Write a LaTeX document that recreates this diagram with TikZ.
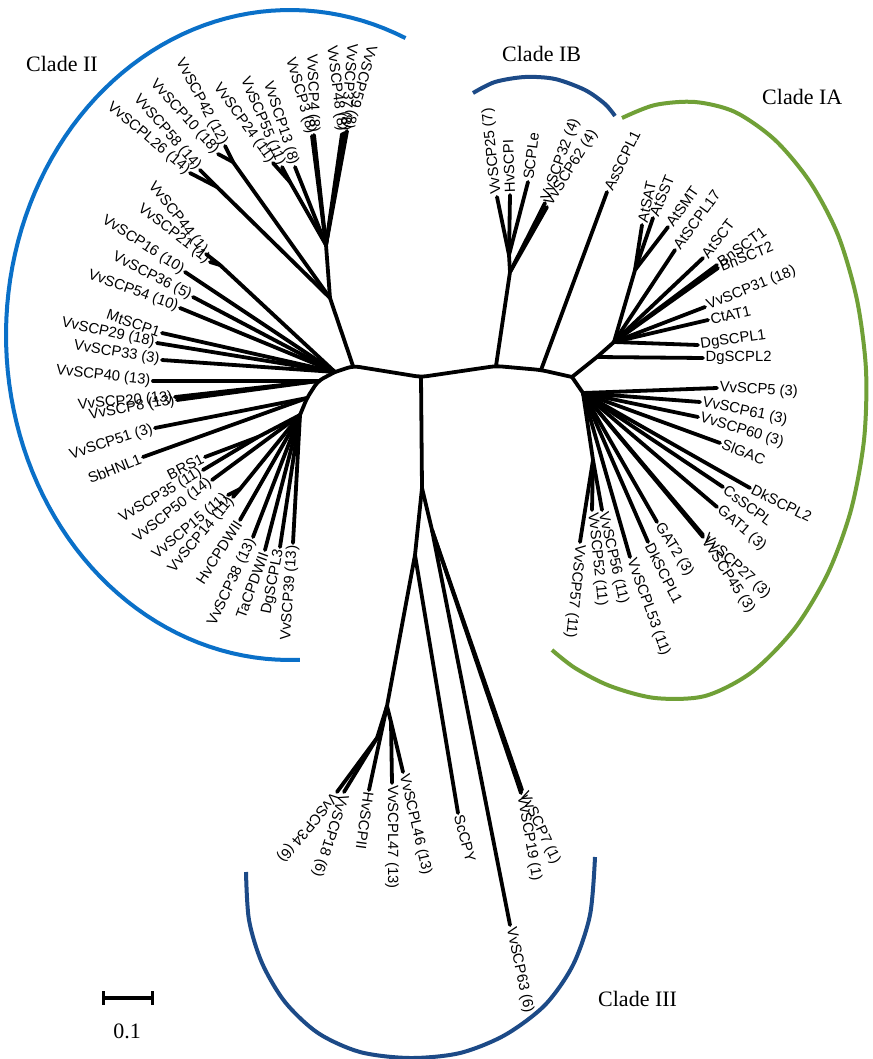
\documentclass[tikz,border=0pt]{standalone}
\usepackage{fontspec}
\setmainfont{Liberation Serif}
\newfontfamily\arialfam{Liberation Sans}
\definecolor{cladeblue}{RGB}{10,112,200}
\definecolor{cladenavy}{RGB}{28,74,135}
\definecolor{cladegreen}{RGB}{112,160,55}
\newcommand\lf{\arialfam\fontsize{14.8}{16}\selectfont}
\newcommand\mkleaf[5]{\coordinate (t#1) at (#2); \node[#4, rotate=#3] (l#1) at (t#1) {#5};}
\begin{document}
\begin{tikzpicture}[x=1pt,y=-1pt,
  br/.style={line width=3.8pt, line cap=round, line join=round},
  bb/.style={line width=3.8pt, line cap=round, line join=round, rounded corners=6pt},
  arcl/.style={line width=4pt},
  lo/.style={font=\lf, anchor=west, inner sep=2.5pt},
  li/.style={font=\lf, anchor=east, inner sep=2.5pt},
  clade/.style={font=\fontsize{22}{24}\selectfont, anchor=base west, inner sep=0pt}]
\useasboundingbox (0,0) rectangle (872,1059);
\fill[white] (0,0) rectangle (872,1059);

% ---------- internal nodes ----------
\coordinate (C0) at (421,377);
\coordinate (L1) at (353,366);
\coordinate (L2) at (335,372);
\coordinate (L3) at (318,381);
\coordinate (L4) at (307,398);
\coordinate (L5) at (300,415);
\coordinate (T0) at (330,298);
\coordinate (T1) at (326,245);
\coordinate (S1) at (217,187);
\coordinate (S2) at (233,162);
\coordinate (S3) at (290,182);
\coordinate (S5) at (220,265);
\coordinate (S6) at (258,437);
\coordinate (S7) at (240,489);
\coordinate (R1) at (496,366);
\coordinate (R2) at (541,370);
\coordinate (R3) at (572,377);
\coordinate (IB1) at (510,272);
\coordinate (IB2) at (509,255);
\coordinate (IA1) at (597,357);
\coordinate (IA2) at (614,342);
\coordinate (IA4) at (635,270);
\coordinate (IAb) at (583,393);
\coordinate (IAc) at (593,460);
\coordinate (B0) at (422,488);
\coordinate (B1) at (415,555);
\coordinate (B2) at (432,530);
\coordinate (B3) at (387,706);
\coordinate (B4) at (377,738);
\coordinate (B5) at (391,722);

% ---------- leaves: Clade II (labels read toward tip) ----------
\mkleaf{L26}{190,173}{-40}{li}{VvSCPL26 (14)}
\mkleaf{58}{200,170}{-49}{li}{VvSCP58 (14)}
\mkleaf{10}{218,154}{-48}{li}{VvSCP10 (18)}
\mkleaf{42}{225,146}{-62}{li}{VvSCP42 (12)}
\mkleaf{24}{273,163}{-54}{li}{VvSCP24 (11)}
\mkleaf{55}{282,167}{-67}{li}{VvSCP55 (11)}
\mkleaf{13}{295,167}{-72}{li}{VvSCP13 (8)}
\mkleaf{3}{312,136}{-74}{li}{VvSCP3 (8)}
\mkleaf{4}{314,135}{-88}{li}{VvSCP4 (8)}
\mkleaf{48}{342,134}{-83}{li}{VvSCP48 (8)}
\mkleaf{37}{344,133}{-95}{li}{VvSCP37 (8)}
\mkleaf{59}{347,131}{-106}{li}{VvSCP59 (8)}
\mkleaf{44}{206,254}{-52}{li}{VvSCP44 (1)}
\mkleaf{21}{210,262}{-38}{li}{VvSCP21 (1)}
\mkleaf{16}{185,272}{-33}{li}{VvSCP16 (10)}
\mkleaf{36}{193,297}{-27}{li}{VvSCP36 (5)}
\mkleaf{54}{180,308}{-20}{li}{VvSCP54 (10)}
\mkleaf{Mt}{162,333}{-19}{li}{MtSCP1}
\mkleaf{29}{157,343}{-12}{li}{VvSCP29 (18)}
\mkleaf{33}{162,360}{-9}{li}{VvSCP33 (3)}
\mkleaf{40}{153,381}{-6}{li}{VvSCP40 (13)}
\mkleaf{20}{175,397}{5}{li}{VvSCP20 (13)}
\mkleaf{8}{177,400}{10}{li}{VvSCP8 (13)}
\mkleaf{51}{155,428}{18}{li}{VvSCP51 (3)}
\mkleaf{Sb}{143,457}{22}{li}{SbHNL1}
\mkleaf{BRS}{205,457}{27}{li}{BRS1}
\mkleaf{35}{203,470}{31}{li}{VvSCP35 (11)}
\mkleaf{50}{212,480}{38}{li}{VvSCP50 (14)}
\mkleaf{15}{228,495}{40}{li}{VvSCP15 (11)}
\mkleaf{14}{233,497}{50}{li}{VvSCP14 (11)}
\mkleaf{HvW}{240,520}{57}{li}{HvCPDWII}
\mkleaf{38}{253,537}{65}{li}{VvSCP38 (13)}
\mkleaf{Ta}{265,550}{70}{li}{TaCPDWII}
\mkleaf{Dg3}{280,547}{79}{li}{DgSCPL3}
\mkleaf{39}{293,543}{86}{li}{VvSCP39 (13)}

% ---------- Clade IB ----------
\mkleaf{25}{497,197}{96}{lo}{VvSCP25 (7)}
\mkleaf{HvI}{510,195}{92}{lo}{HvSCPI}
\mkleaf{SCPLe}{528,182}{83}{lo}{SCPLe}
\mkleaf{32}{545,203}{70}{lo}{VvSCP32 (4)}
\mkleaf{62}{547,207}{58}{lo}{VvSCP62 (4)}
\mkleaf{As}{607,192}{64}{lo}{AsSCPL1}

% ---------- Clade IA ----------
\mkleaf{SAT}{642,225}{78}{lo}{AtSAT}
\mkleaf{SST}{653,218}{68}{lo}{AtSST}
\mkleaf{SMT}{668,227}{55}{lo}{AtSMT}
\mkleaf{L17}{675,250}{54}{lo}{AtSCPL17}
\mkleaf{SCT}{703,258}{52}{lo}{AtSCT}
\mkleaf{Bn1}{717,265}{36}{lo}{BnSCT1}
\mkleaf{Bn2}{718,268}{22}{lo}{BnSCT2}
\mkleaf{31}{705,307}{22}{lo}{VvSCP31 (18)}
\mkleaf{Ct}{708,320}{13}{lo}{CtAT1}
\mkleaf{Dg1}{698,345}{8}{lo}{DgSCPL1}
\mkleaf{Dg2}{703,358}{0}{lo}{DgSCPL2}
\mkleaf{5}{717,388}{-3}{lo}{VvSCP5 (3)}
\mkleaf{61}{700,402}{-12}{lo}{VvSCP61 (3)}
\mkleaf{60}{698,417}{-17}{lo}{VvSCP60 (3)}
\mkleaf{Sl}{720,443}{-21}{lo}{SlGAC}
\mkleaf{Dk2}{750,488}{-26}{lo}{DkSCPL2}
\mkleaf{Cs}{723,487}{-37}{lo}{CsSCPL}
\mkleaf{G1}{717,507}{-41}{lo}{GAT1 (3)}
\mkleaf{27}{703,535}{-43}{lo}{VvSCP27 (3)}
\mkleaf{45}{703,537}{-57}{lo}{VvSCP45 (3)}
\mkleaf{G2}{657,522}{-58}{lo}{GAT2 (3)}
\mkleaf{Dk1}{648,542}{-63}{lo}{DkSCPL1}
\mkleaf{53}{630,557}{-70}{lo}{VvSCPL53 (11)}
\mkleaf{56}{602,510}{-77}{lo}{VvSCP56 (11)}
\mkleaf{52}{592,510}{-84}{lo}{VvSCP52 (11)}
\mkleaf{57}{580,542}{-96}{lo}{VvSCP57 (11)}

% ---------- Clade III ----------
\mkleaf{34}{337,792}{-130}{lo}{VvSCP34 (6)}
\mkleaf{18}{344,792}{-108}{lo}{VvSCP18 (6)}
\mkleaf{HvII}{369,790}{-98}{lo}{HvSCPII}
\mkleaf{47}{392,783}{-90}{lo}{VvSCPL47 (13)}
\mkleaf{46}{403,772}{-77}{lo}{VvSCPL46 (13)}
\mkleaf{Sc}{458,813}{-75}{lo}{ScCPY}
\mkleaf{63}{510,925}{-78}{lo}{VvSCP63 (6)}
\mkleaf{7}{522,790}{-65}{lo}{VvSCP7 (1)}
\mkleaf{19}{521,793}{-80}{lo}{VvSCP19 (1)}

% ---------- branches ----------
\draw[bb] (R3) -- (R2) -- (R1) -- (C0) -- (L1) -- (L2);
\draw[bb] (L2) -- (L3) -- (L4) -- (L5);
\draw[bb] (R3) -- (IAb);
\draw[br] (C0) -- (B0);
% Clade II top
\draw[br] (L1) -- (T0) -- (T1);
\draw[br] (T0) -- (S1); \draw[br] (S1) -- (tL26); \draw[br] (S1) -- (t58);
\draw[br] (T0) -- (S2); \draw[br] (S2) -- (t42); \draw[br] (S2) -- (t10);
\draw[br] (T1) -- (S3); \draw[br] (S3) -- (t24); \draw[br] (S3) -- (t55);
\draw[br] (T1) -- (t13);
\draw[br] (T1) -- (t3); \draw[br] (T1) -- (t4);
\draw[br] (T1) -- (t48); \draw[br] (T1) -- (t37); \draw[br] (T1) -- (t59);
% Clade II left
\draw[br] (L2) -- (S5); \draw[br] (S5) -- (t44); \draw[br] (S5) -- (t21);
\draw[br] (L2) -- (t16); \draw[br] (L2) -- (t36); \draw[br] (L2) -- (t54);
\draw[br] (L2) -- (tMt); \draw[br] (L2) -- (t29); \draw[br] (L2) -- (t33);
\draw[br] (L3) -- (t40); \draw[br] (L3) -- (t20); \draw[br] (L3) -- (t8);
\draw[br] (L4) -- (t51); \draw[br] (L4) -- (tSb);
\draw[br] (L5) -- (S6); \draw[br] (S6) -- (tBRS); \draw[br] (S6) -- (t35);
\draw[br] (L5) -- (t50);
\draw[br] (L5) -- (S7); \draw[br] (S7) -- (t15); \draw[br] (S7) -- (t14);
\draw[br] (L5) -- (tHvW); \draw[br] (L5) -- (t38); \draw[br] (L5) -- (tTa);
\draw[br] (L5) -- (tDg3); \draw[br] (L5) -- (t39);
% Clade IB
\draw[br] (R1) -- (IB1); \draw[br] (IB1) -- (t32); \draw[br] (IB1) -- (t62);
\draw[br] (IB1) -- (IB2); \draw[br] (IB2) -- (t25); \draw[br] (IB2) -- (tHvI);
\draw[br] (IB2) -- (tSCPLe);
\draw[br] (R2) -- (tAs);
% Clade IA upper
\draw[br] (R3) -- (IA1) -- (IA2) -- (IA4);
\draw[br] (IA1) -- (tDg2);
\draw[br] (IA2) -- (tDg1); \draw[br] (IA2) -- (tCt); \draw[br] (IA2) -- (t31);
\draw[br] (IA2) -- (tBn1); \draw[br] (IA2) -- (tBn2); \draw[br] (IA2) -- (tSCT);
\draw[br] (IA2) -- (tL17);
\draw[br] (IA4) -- (tSAT); \draw[br] (IA4) -- (tSST); \draw[br] (IA4) -- (tSMT);
% Clade IA lower
\foreach \t in {5,61,60,Sl,Dk2,Cs,G1,27,45,G2,Dk1,53} {\draw[br] (IAb) -- (t\t);}
\draw[br] (IAb) -- (IAc);
\draw[br] (IAc) -- (t56); \draw[br] (IAc) -- (t52); \draw[br] (IAc) -- (t57);
% Clade III
\draw[br] (B0) -- (B1); \draw[br] (B0) -- (B2);
\draw[br] (B1) -- (B3); \draw[br] (B1) -- (tSc);
\draw[br] (B2) -- (t63); \draw[br] (B2) -- (t7); \draw[br] (B2) -- (t19);
\draw[br] (B3) -- (B4); \draw[br] (B4) -- (t34); \draw[br] (B4) -- (t18);
\draw[br] (B3) -- (tHvII);
\draw[br] (B3) -- (B5); \draw[br] (B5) -- (t47); \draw[br] (B5) -- (t46);

% ---------- clade arcs ----------
\draw[arcl, cladeblue] plot[domain=-66:-272, samples=90] ({290+284*cos(\x)},{335+325*sin(\x)});
\draw[arcl, cladenavy] plot[smooth] coordinates {(473,93) (495,82) (525,77) (555,79) (585,90) (605,104) (615,116)};
\draw[arcl, cladegreen] plot[smooth] coordinates {(622,118) (655,105) (695,102) (735,112) (775,140) (810,182) (838,235) (857,300) (866,370) (864,440) (851,510) (828,573) (795,628) (752,672) (705,696) (655,698) (610,686) (575,668) (552,650)};
\draw[arcl, cladenavy] plot[smooth] coordinates {(246,872) (249,920) (262,963) (285,1002) (318,1033) (360,1052) (410,1058) (460,1053) (505,1035) (545,1005) (573,965) (590,915) (595,857)};

% ---------- clade labels ----------
\node[clade] (cII) at (26,72) {Clade II};
\node[clade] (cIB) at (502,62) {Clade IB};
\node[clade] (cIA) at (762,105) {Clade IA};
\node[clade] (cIII) at (598,1006) {Clade III};

% ---------- scale bar ----------
\coordinate (sbL) at (103,998);
\coordinate (sbR) at (152,998);
\coordinate (sbLt) at (103,991);
\coordinate (sbLb) at (103,1005);
\coordinate (sbRt) at (152,991);
\coordinate (sbRb) at (152,1005);
\draw[line width=4pt] (sbL) -- (sbR);
\draw[line width=3pt] (sbLt) -- (sbLb);
\draw[line width=3pt] (sbRt) -- (sbRb);
\node[font=\fontsize{22}{24}\selectfont, anchor=base, inner sep=0pt] (sbt) at (127,1038) {0.1};
\end{tikzpicture}
\end{document}
